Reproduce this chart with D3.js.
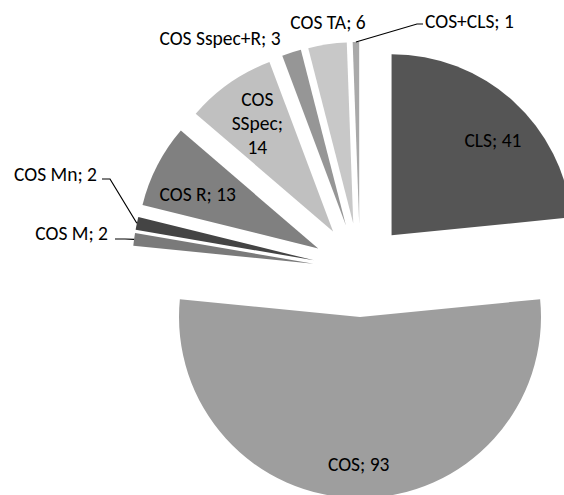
<!DOCTYPE html>
<html>
<head>
<meta charset="utf-8">
<script src="https://cdn.jsdelivr.net/npm/d3@7"></script>
<style>
  html, body { margin: 0; padding: 0; background: #fff; }
  svg { display: block; }
  text { font-family: Calibri, Carlito, Lato, "Liberation Sans", sans-serif; font-size: 19.5px; fill: #000; }
</style>
</head>
<body>
<svg id="chart" width="564" height="495"></svg>
<script>
// ---- data ----
const categories = ["CLS", "COS", "COS M", "COS Mn", "COS R", "COS SSpec", "COS Sspec+R", "COS TA", "COS+CLS"];
const values = [41, 93, 2, 2, 13, 14, 3, 6, 1];
const colors = ["#555555", "#9e9e9e", "#7a7a7a", "#444444", "#808080", "#c0c0c0", "#969696", "#c8c8c8", "#a9a9a9"];

// ---- layout ----
const W = 564, H = 495;
const cx = 360, cy = 270, R = 181, EXPLODE = 47;

const svg = d3.select("#chart");
const g = svg.append("g").attr("transform", `translate(${cx},${cy})`);

const rows = categories.map((c, i) => ({ name: c, value: values[i], color: colors[i] }));
const pie = d3.pie().value(d => d.value).sort(null).startAngle(0).endAngle(2 * Math.PI);
const arcs = pie(rows);
const arc = d3.arc().innerRadius(0).outerRadius(R);

function mid(a) { return (a.startAngle + a.endAngle) / 2; }
function polar(r, ang) { return [r * Math.sin(ang), -r * Math.cos(ang)]; }

const slices = g.selectAll("g.slice").data(arcs).join("g")
  .attr("class", "slice")
  .attr("transform", d => { const p = polar(EXPLODE, mid(d)); return `translate(${p[0]},${p[1]})`; });

slices.append("path")
  .attr("d", arc)
  .attr("fill", d => d.data.color);

// label placement rules (layout, not data)
const labelCfg = {
  "CLS":        { mode: "inside", r: 0.77, dAng: 4.5 },
  "COS":        { mode: "inside", r: 0.81, dAng: 0.5 },
  "COS R":      { mode: "inside", r: 0.73, dAng: -3 },
  "COS SSpec":  { mode: "inside", r: 0.73, dAng: 0, lines: ["COS", "SSpec;", "14"] },
  "COS Sspec+R":{ mode: "outside", tx: 220, ty: 38, anchor: "middle" },
  "COS TA":     { mode: "outside", tx: 328, ty: 22, anchor: "middle" },
  "COS+CLS":    { mode: "leader", knee: [417, 24], end: [423, 24], tx: 425, ty: 21, anchor: "start" },
  "COS Mn":     { mode: "leader", knee: [110, 179], end: [102, 179], tx: 97, ty: 174, anchor: "end" },
  "COS M":      { mode: "leader", knee: [125, 239], end: [115, 239], tx: 108, ty: 233, anchor: "end" }
};

const lab = svg.append("g");
arcs.forEach(d => {
  const cfg = labelCfg[d.data.name];
  const text = `${d.data.name}; ${d.data.value}`;
  const m = mid(d);
  const off = polar(EXPLODE, m);
  if (cfg.mode === "inside") {
    const ang = m + cfg.dAng * Math.PI / 180;
    const p = polar(R * cfg.r, ang);
    const x = cx + off[0] + p[0], y = cy + off[1] + p[1];
    const lines = cfg.lines || [text];
    const lh = 24;
    const t = lab.append("text").attr("text-anchor", "middle");
    lines.forEach((ln, i) => {
      t.append("tspan").attr("x", x)
        .attr("y", y + (i - (lines.length - 1) / 2) * lh)
        .attr("dominant-baseline", "central")
        .text(ln);
    });
  } else {
    if (cfg.mode === "leader") {
      const o = polar(R, m);
      const sx = cx + off[0] + o[0], sy = cy + off[1] + o[1];
      lab.append("path")
        .attr("d", d3.line()([[sx, sy], cfg.knee, cfg.end]))
        .attr("fill", "none").attr("stroke", "#000").attr("stroke-width", 1.2);
    }
    lab.append("text").attr("x", cfg.tx).attr("y", cfg.ty)
      .attr("text-anchor", cfg.anchor).attr("dominant-baseline", "central")
      .text(text);
  }
});
</script>
</body>
</html>
